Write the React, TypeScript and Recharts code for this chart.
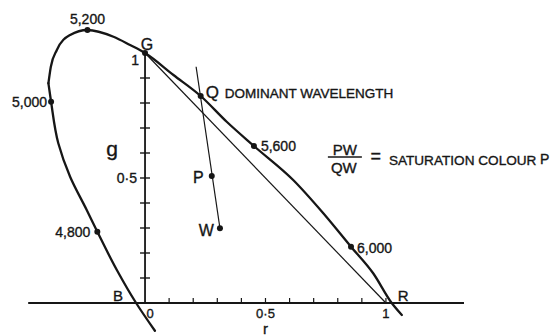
import { ComposedChart, Line, ReferenceDot, ReferenceLine, XAxis, YAxis } from "recharts";

// chromaticity plane (r, g) – visible window of the diagram
const R_DOMAIN = [-0.602, 1.681];
const G_DOMAIN = [-0.132, 1.212];

const LOCUS_R = [0.041, -0.037, -0.117, -0.198, -0.242, -0.311, -0.36, -0.39, -0.401, -0.391, -0.366, -0.311, -0.239, -0.131, -0.062, 0, 0.118, 0.231, 0.339, 0.452, 0.615, 0.74, 0.855, 0.947, 1.024, 1.066];
const LOCUS_G = [-0.111, 0, 0.132, 0.285, 0.372, 0.505, 0.639, 0.805, 0.879, 0.945, 1.012, 1.072, 1.092, 1.065, 1.032, 1, 0.912, 0.828, 0.725, 0.628, 0.492, 0.359, 0.225, 0.119, 0, -0.048];
const LOCUS_LEFTMOST = 8; // index where the locus turns (left edge of the loop)

// marked wavelengths on the locus
const WAVE_LABELS = ["4,800", "5,000", "5,200", "5,600", "6,000"];
const WAVE_R = [-0.198, -0.39, -0.239, 0.452, 0.855];
const WAVE_G = [0.285, 0.805, 1.092, 0.628, 0.225];

// named points
const POINT_LABELS = ["G", "Q", "P", "W"];
const POINT_R = [0, 0.231, 0.277, 0.311];
const POINT_G = [1, 0.828, 0.508, 0.299];

// W -> P -> Q line, continued past Q
const DOMINANT_R = [0.311, 0.212];
const DOMINANT_G = [0.299, 0.945];

// r + g = 1 line
const RG_R = [0, 1];
const RG_G = [1, 0];

// locus crossings of the r axis
const CROSS_LABELS = ["B", "R"];
const CROSS_R = [-0.037, 1.024];

// axes
const R_AXIS_EXTENT = [-0.485, 1.324];
const G_AXIS_EXTENT = [0, 1];
const R_TICKS = [0.1, 0.2, 0.3, 0.4, 0.5, 0.6, 0.7, 0.8, 0.9, 1.0];
const G_TICKS = [0.1, 0.2, 0.3, 0.4, 0.5, 0.6, 0.7, 0.8, 0.9];
const R_TICK_LABELS = ["0", "0·5", "1"];
const R_TICK_VALUES = [0, 0.5, 1];
const G_TICK_LABELS = ["0·5"];
const G_TICK_VALUES = [0.5];

const locus = LOCUS_R.map((r, i) => ({ r, g: LOCUS_G[i] }));
// blue limb drawn top-down (monotone in g), the rest left-to-right (monotone in r)
const locusBlue = locus.slice(0, LOCUS_LEFTMOST + 1).reverse();
const locusRed = locus.slice(LOCUS_LEFTMOST);
const dominant = DOMINANT_R.map((r, i) => ({ r, g: DOMINANT_G[i] }));
const rgLine = RG_R.map((r, i) => ({ r, g: RG_G[i] }));

const INK = "#161616";
const FONT = "'Liberation Sans', Arial, sans-serif";

// where each label sits relative to its point (pixels)
const LAYOUT: Record<string, { dx: number; dy: number; anchor: "start" | "middle" | "end"; size: number }> = {
  "4,800": { dx: -7, dy: 5, anchor: "end", size: 14 },
  "5,000": { dx: -4, dy: 5, anchor: "end", size: 14 },
  "5,200": { dx: 0, dy: -6, anchor: "middle", size: 14 },
  "5,600": { dx: 7, dy: 5, anchor: "start", size: 14 },
  "6,000": { dx: 6, dy: 6, anchor: "start", size: 14 },
  G: { dx: 2, dy: -3, anchor: "middle", size: 16 },
  Q: { dx: 5, dy: 2, anchor: "start", size: 17 },
  P: { dx: -8, dy: 7, anchor: "end", size: 16 },
  W: { dx: -6, dy: 8, anchor: "end", size: 16 },
  B: { dx: -23, dy: -2, anchor: "start", size: 15 },
  R: { dx: 6, dy: -2, anchor: "start", size: 15 },
};

const Label = ({ x, y, text, dx, dy, anchor, size }: any) => (
  <text x={x + dx} y={y + dy} textAnchor={anchor} fontSize={size} fontFamily={FONT} fill={INK} stroke={INK} strokeWidth={0.35}>
    {text}
  </text>
);

const dotShape = (label: string) => (p: any) => {
  const l = LAYOUT[label];
  return (
    <g>
      <circle cx={p.cx} cy={p.cy} r={3} fill={INK} />
      <Label x={p.cx} y={p.cy} text={label} {...l} />
      {label === "G" && <Label x={p.cx} y={p.cy} text="1" dx={-6} dy={12} anchor="end" size={14} />}
      {label === "Q" && <Label x={p.cx} y={p.cy} text="DOMINANT WAVELENGTH" dx={24} dy={2} anchor="start" size={13.5} />}
    </g>
  );
};

const crossShape = (label: string) => (p: any) => <Label x={p.cx} y={p.cy} text={label} {...LAYOUT[label]} />;

const rTick = (p: any) => <line x1={p.cx} y1={p.cy} x2={p.cx} y2={p.cy - 5} stroke={INK} strokeWidth={1.2} />;
const gTick = (p: any) => <line x1={p.cx - 5} y1={p.cy} x2={p.cx + 5} y2={p.cy} stroke={INK} strokeWidth={1.4} />;

const rTickLabel = (text: string) => (p: any) => (
  <Label x={p.cx} y={p.cy} text={text} dx={text === "0" ? 5 : 0} dy={15} anchor="middle" size={13} />
);
const gTickLabel = (text: string) => (p: any) => <Label x={p.cx} y={p.cy} text={text} dx={-8} dy={5} anchor="end" size={14} />;

// formula PW / QW = SATURATION COLOUR P, hung on its left end
const FORMULA_AT = { r: 0.759, g: 0.584 };
const formulaShape = (p: any) => (
  <g fontFamily={FONT} fill={INK} stroke={INK} strokeWidth={0.35}>
    <text x={p.cx + 17} y={p.cy - 2} textAnchor="middle" fontSize={15}>PW</text>
    <line x1={p.cx} y1={p.cy} x2={p.cx + 34} y2={p.cy} stroke={INK} strokeWidth={1.3} />
    <text x={p.cx + 16} y={p.cy + 16} textAnchor="middle" fontSize={15}>QW</text>
    <text x={p.cx + 48} y={p.cy + 5} textAnchor="middle" fontSize={18}>=</text>
    <text x={p.cx + 61} y={p.cy + 8} fontSize={13.6}>SATURATION COLOUR</text>
    <text x={p.cx + 212} y={p.cy + 7} fontSize={14}>P</text>
  </g>
);

const axisName = (text: string, dx: number, dy: number, size: number) => (p: any) => (
  <Label x={p.cx} y={p.cy} text={text} dx={dx} dy={dy} anchor="middle" size={size} />
);

const curveProps = {
  dataKey: "g",
  stroke: INK,
  dot: false,
  activeDot: false,
  isAnimationActive: false,
} as const;

export default function App() {
  return (
    <div style={{ position: "absolute", left: 0, top: 0, width: 550, height: 336, background: "#fff" }}>
      <ComposedChart width={550} height={336} margin={{ top: 0, right: 0, bottom: 0, left: 0 }}>
        <XAxis dataKey="r" type="number" domain={R_DOMAIN} allowDataOverflow hide />
        <YAxis type="number" domain={G_DOMAIN} allowDataOverflow hide />

        <ReferenceLine segment={[{ x: R_AXIS_EXTENT[0], y: 0 }, { x: R_AXIS_EXTENT[1], y: 0 }]} stroke={INK} strokeWidth={1.8} />
        <ReferenceLine segment={[{ x: 0, y: G_AXIS_EXTENT[0] }, { x: 0, y: G_AXIS_EXTENT[1] }]} stroke={INK} strokeWidth={1.8} />
        {R_TICKS.map((t) => <ReferenceDot key={`rt${t}`} x={t} y={0} r={0} shape={rTick} />)}
        {G_TICKS.map((t) => <ReferenceDot key={`gt${t}`} x={0} y={t} r={0} shape={gTick} />)}
        {R_TICK_VALUES.map((v, i) => <ReferenceDot key={`rl${v}`} x={v} y={0} r={0} shape={rTickLabel(R_TICK_LABELS[i])} />)}
        {G_TICK_VALUES.map((v, i) => <ReferenceDot key={`gl${v}`} x={0} y={v} r={0} shape={gTickLabel(G_TICK_LABELS[i])} />)}
        <ReferenceDot x={0.5} y={0} r={0} shape={axisName("r", 0, 31, 15)} />
        <ReferenceDot x={0} y={0.6} r={0} shape={axisName("g", -33, 3, 21)} />

        <Line data={rgLine} type="linear" strokeWidth={1.2} {...curveProps} />
        <Line data={dominant} type="linear" strokeWidth={1.2} {...curveProps} />
        <Line data={locusBlue} type="monotoneY" strokeWidth={2.3} strokeLinecap="round" {...curveProps} />
        <Line data={locusRed} type="monotoneX" strokeWidth={2.3} strokeLinecap="round" {...curveProps} />

        {WAVE_LABELS.map((l, i) => <ReferenceDot key={l} x={WAVE_R[i]} y={WAVE_G[i]} r={3} shape={dotShape(l)} />)}
        {POINT_LABELS.map((l, i) => <ReferenceDot key={l} x={POINT_R[i]} y={POINT_G[i]} r={3} shape={dotShape(l)} />)}
        {CROSS_LABELS.map((l, i) => <ReferenceDot key={l} x={CROSS_R[i]} y={0} r={0} shape={crossShape(l)} />)}
        <ReferenceDot x={FORMULA_AT.r} y={FORMULA_AT.g} r={0} shape={formulaShape} />
      </ComposedChart>
    </div>
  );
}
